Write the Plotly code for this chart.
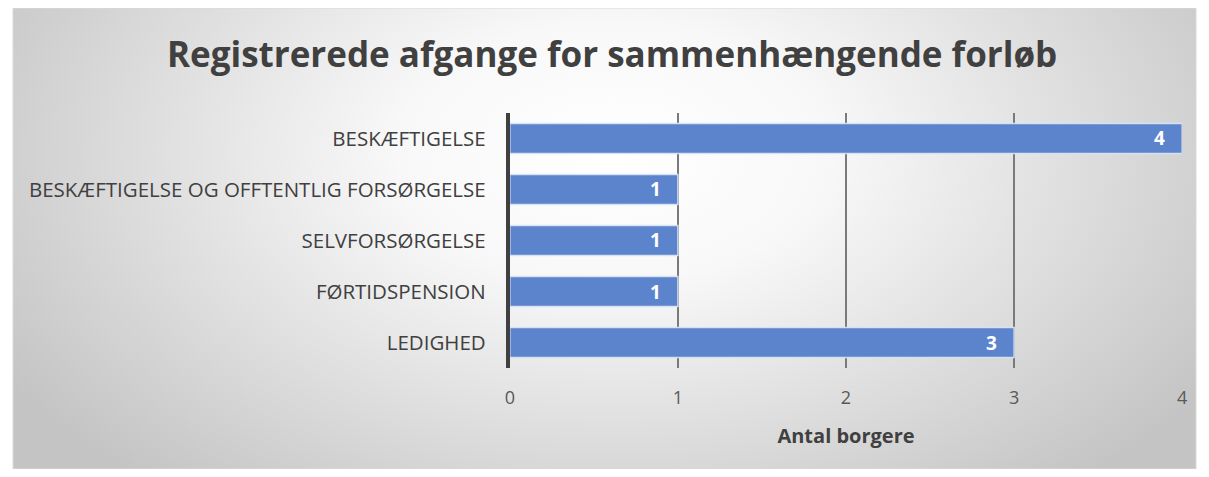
import base64
import plotly.graph_objects as go

categories = ["LEDIGHED", "FØRTIDSPENSION", "SELVFORSØRGELSE",
              "BESKÆFTIGELSE OG OFFTENTLIG FORSØRGELSE", "BESKÆFTIGELSE"]
values = [3, 1, 1, 1, 4]
x_ticks = [0, 1, 2, 3, 4]
title_text = "Registrerede afgange for sammenhængende forløb"
x_title = "Antal borgere"

W, H = 1193, 461
OFF_X, SCALE_X, OFF_Y = 14.2, 0.9896, 8

svg = f'''<svg xmlns="http://www.w3.org/2000/svg" width="{W}" height="{H}" viewBox="0 0 {W} {H}" preserveAspectRatio="none">
<defs><radialGradient id="g" cx="604" cy="145" r="720" gradientUnits="userSpaceOnUse" gradientTransform="translate(604 145) scale(1 0.6) translate(-604 -145)">
<stop offset="0" stop-color="#ffffff"/><stop offset="0.3" stop-color="#f8f8f8"/><stop offset="1" stop-color="#c4c4c4"/></radialGradient></defs>
<rect x="0" y="0" width="{W}" height="{H}" fill="url(#g)"/></svg>'''
src = "data:image/svg+xml;base64," + base64.b64encode(svg.encode()).decode()

FONT = "Open Sans"

fig = go.Figure()
fig.add_trace(go.Bar(
    y=categories, x=values, orientation="h",
    marker=dict(color="#5b84cc", line=dict(color="rgba(220,230,245,0.9)", width=1.5)),
    hoverinfo="skip",
))

labels = [dict(x=v, y=c, text=str(v), xref="x", yref="y", showarrow=False,
               xanchor="right", xshift=-15,
               font=dict(family=FONT, size=19, color="white", weight="bold"))
          for c, v in zip(categories, values)]


def px_x(v):
    return ((v - OFF_X) / SCALE_X) / W


def px_y(v):
    return 1 - (v - OFF_Y) / H


fig.update_layout(
    width=W, height=H,
    margin=dict(l=0, r=0, t=0, b=0),
    paper_bgcolor="white", plot_bgcolor="rgba(0,0,0,0)",
    showlegend=False,
    bargap=0.41,
    annotations=labels,
    images=[dict(source=src, xref="paper", yref="paper", x=0, y=1,
                 sizex=1, sizey=1, sizing="stretch", layer="below")],
    shapes=[dict(type="rect", xref="paper", yref="paper", x0=0, x1=1, y0=0, y1=1,
                 line=dict(color="#d9d9d9", width=1), fillcolor="rgba(0,0,0,0)", layer="above")],
    title=dict(text=title_text, x=px_x(612), xanchor="center", y=px_y(55), yanchor="middle",
               font=dict(family=FONT, size=35, color="#404040", weight="bold")),
    xaxis=dict(domain=[px_x(510), px_x(1181)], range=[0, 4], tickvals=x_ticks,
               showgrid=True, gridcolor="#7a7a7a", gridwidth=1.5, zeroline=False,
               showline=False, ticks="", ticklabelstandoff=17,
               tickfont=dict(family=FONT, size=18, color="#595959"),
               title=dict(text=x_title, standoff=20,
                          font=dict(family=FONT, size=20, color="#404040", weight="bold"))),
    yaxis=dict(domain=[px_y(368), px_y(113)], showgrid=False, zeroline=False,
               showline=True, linecolor="#404040", linewidth=4, ticks="",
               ticklabelstandoff=16,
               tickfont=dict(family=FONT, size=20.5, color="#404040")),
)

fig.write_html("out.html")
